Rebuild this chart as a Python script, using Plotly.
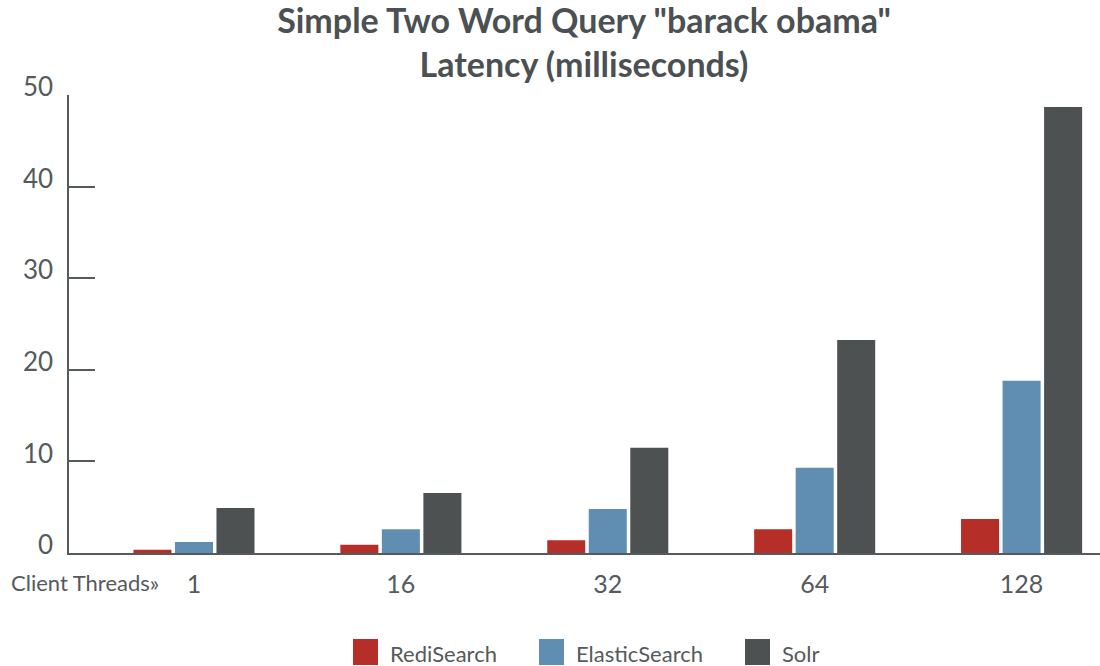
import plotly.graph_objects as go

categories = ["1", "16", "32", "64", "128"]
redisearch = [0.35, 0.9, 1.4, 2.6, 3.7]
elasticsearch = [1.2, 2.6, 4.8, 9.3, 18.8]
solr = [4.9, 6.55, 11.5, 23.25, 48.7]
series_names = ["RediSearch", "ElasticSearch", "Solr"]
series_colors = ["#b52e27", "#608eb3", "#4d5152"]
y_ticks = [0, 10, 20, 30, 40, 50]

OFF = 0  # body margin removed via post_script
SW, SH = 1100, 666  # screen size
W, H = SW - OFF, SH - OFF
L, T = 69 - OFF, 95 - OFF
R = 0
B = SH - 553
pw = W - L - R
ph = H - T - B

def px_x(p):
    return (p - OFF - L) / pw

def px_y(p):
    return (H - B - (p - OFF)) / ph

fig = go.Figure()
for name, vals, col in zip(series_names, [redisearch, elasticsearch, solr], series_colors):
    fig.add_trace(go.Bar(x=categories, y=vals, name=name, marker=dict(color=col, line=dict(width=0)),
                         showlegend=False))

FONT = "Lato, 'Open Sans', sans-serif"
GRAY = "#555a5c"

fig.update_layout(
    width=W, height=H,
    margin=dict(l=L, r=R, t=T, b=B, pad=0),
    paper_bgcolor="white", plot_bgcolor="white",
    barmode="group", bargap=0.398, bargroupgap=0.084,
    font=dict(family=FONT, color=GRAY),
    title=dict(text="Simple Two Word Query \"barack obama\"<br>Latency (milliseconds)",
               x=px_x(584), xref="paper", xanchor="center",
               y=1 - (33 - OFF) / H, yref="container", yanchor="middle",
               font=dict(family=FONT, size=34, color="#4b5052", weight="bold")),
    xaxis=dict(type="category", range=[-0.604, 4.379], showline=True, linecolor=GRAY, linewidth=2,
               ticks="", showgrid=False, zeroline=False,
               tickfont=dict(family=FONT, size=25, color=GRAY), ticklabelstandoff=8),
    yaxis=dict(range=[0, 50], tickvals=y_ticks, showline=True, linecolor=GRAY, linewidth=1.5,
               ticks="inside", ticklen=26, tickwidth=1.5, tickcolor=GRAY,
               showgrid=False, zeroline=False,
               tickfont=dict(family=FONT, size=26, color=GRAY),
               ticklabelposition="outside", ticklabelshift=-8, ticklabelstandoff=9),
)

fig.add_annotation(text="Client Threads»", xref="paper", yref="paper",
                   x=px_x(161), y=px_y(582), xanchor="right", yanchor="middle",
                   showarrow=False, font=dict(family=FONT, size=22, color=GRAY))

legend_x = [353, 539, 745]
for name, col, lx in zip(series_names, series_colors, legend_x):
    fig.add_shape(type="rect", xref="paper", yref="paper",
                  x0=px_x(lx), x1=px_x(lx + 25), y0=px_y(665), y1=px_y(639),
                  fillcolor=col, line=dict(width=0))
    fig.add_annotation(text=name, xref="paper", yref="paper",
                       x=px_x(lx + 35), y=px_y(653), xanchor="left", yanchor="middle",
                       showarrow=False, font=dict(family=FONT, size=22, color=GRAY))

fig.write_html("out.html", config={"displayModeBar": False},
               post_script="document.body.style.margin='0px';document.body.style.overflow='hidden';")
